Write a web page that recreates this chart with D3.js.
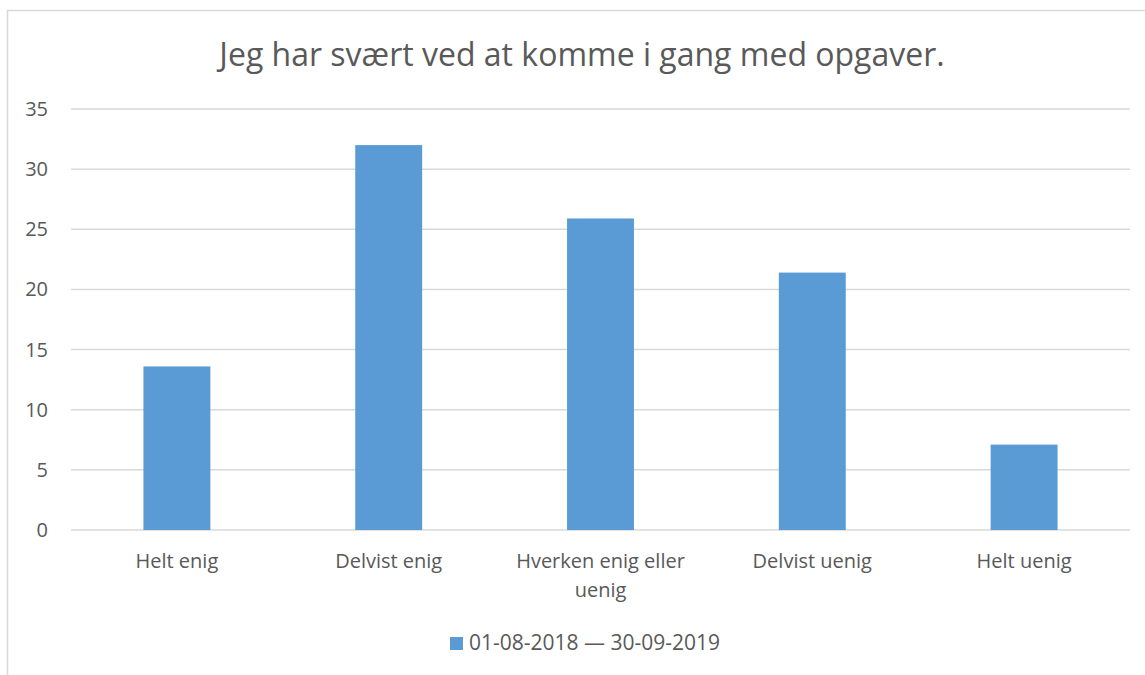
<!DOCTYPE html>
<html>
<head>
<meta charset="utf-8">
<style>
  body { margin: 0; background: #fff; }
  text { font-family: "Open Sans", sans-serif; fill: #595959; }
</style>
</head>
<body>
<script src="https://d3js.org/d3.v7.min.js"></script>
<script>
// data
var categories = ["Helt enig", "Delvist enig", "Hverken enig eller uenig", "Delvist uenig", "Helt uenig"];
var values = [13.6, 32.0, 25.9, 21.4, 7.1];
var yTicks = [0, 5, 10, 15, 20, 25, 30, 35];
var seriesName = "01-08-2018 \u2014 30-09-2019";
var title = "Jeg har svært ved at komme i gang med opgaver.";

var W = 1145, H = 675;
var margin = {left: 71, right: 15, top: 109, bottom: 145};

var svg = d3.select("body").append("svg").attr("width", W).attr("height", H);

// chart border
svg.append("rect")
  .attr("x", 7.5).attr("y", 10.5)
  .attr("width", W + 10).attr("height", H + 10)
  .attr("fill", "none").attr("stroke", "#d9d9d9").attr("stroke-width", 1.5);

var x = d3.scaleBand().domain(categories)
  .range([margin.left, W - margin.right])
  .paddingInner(0.684).paddingOuter(0.342);

var y = d3.scaleLinear().domain([0, 35]).range([H - margin.bottom, margin.top]);

// gridlines
svg.append("g").selectAll("line").data(yTicks).enter().append("line")
  .attr("x1", margin.left).attr("x2", W - margin.right)
  .attr("y1", function(d){ return y(d); }).attr("y2", function(d){ return y(d); })
  .attr("stroke", "#d9d9d9").attr("stroke-width", 1.5);

// y labels
svg.append("g").selectAll("text").data(yTicks).enter().append("text")
  .attr("x", 48).attr("y", function(d){ return y(d); })
  .attr("dy", "0.35em").attr("text-anchor", "end")
  .attr("font-size", "20px")
  .text(function(d){ return d; });

// bars
svg.append("g").selectAll("rect").data(values).enter().append("rect")
  .attr("x", function(d, i){ return x(categories[i]); })
  .attr("width", x.bandwidth())
  .attr("y", function(d){ return y(d); })
  .attr("height", function(d){ return y(0) - y(d); })
  .attr("fill", "#5b9bd5");

// x labels (wrap)
var wraps = {"Hverken enig eller uenig": ["Hverken enig eller", "uenig"]};
var xl = svg.append("g").selectAll("text").data(categories).enter().append("text")
  .attr("text-anchor", "middle")
  .attr("font-size", "20px")
  .attr("x", function(d){ return x(d) + x.bandwidth() / 2; })
  .attr("y", y(0) + 38);
xl.each(function(d){
  var lines = wraps[d] || [d];
  var t = d3.select(this);
  lines.forEach(function(l, i){
    t.append("tspan").attr("x", x(d) + x.bandwidth() / 2)
      .attr("dy", i === 0 ? 0 : 29).text(l);
  });
});

// title
svg.append("text")
  .attr("x", 582).attr("y", 66)
  .attr("text-anchor", "middle")
  .attr("font-size", "32px")
  .text(title);

// legend
var lg = svg.append("g");
lg.append("rect").attr("x", 450).attr("y", 637).attr("width", 13).attr("height", 13).attr("fill", "#5b9bd5");
lg.append("text").attr("x", 469).attr("y", 643).attr("dy", "0.35em")
  .attr("font-size", "21px").text(seriesName);
</script>
</body>
</html>
